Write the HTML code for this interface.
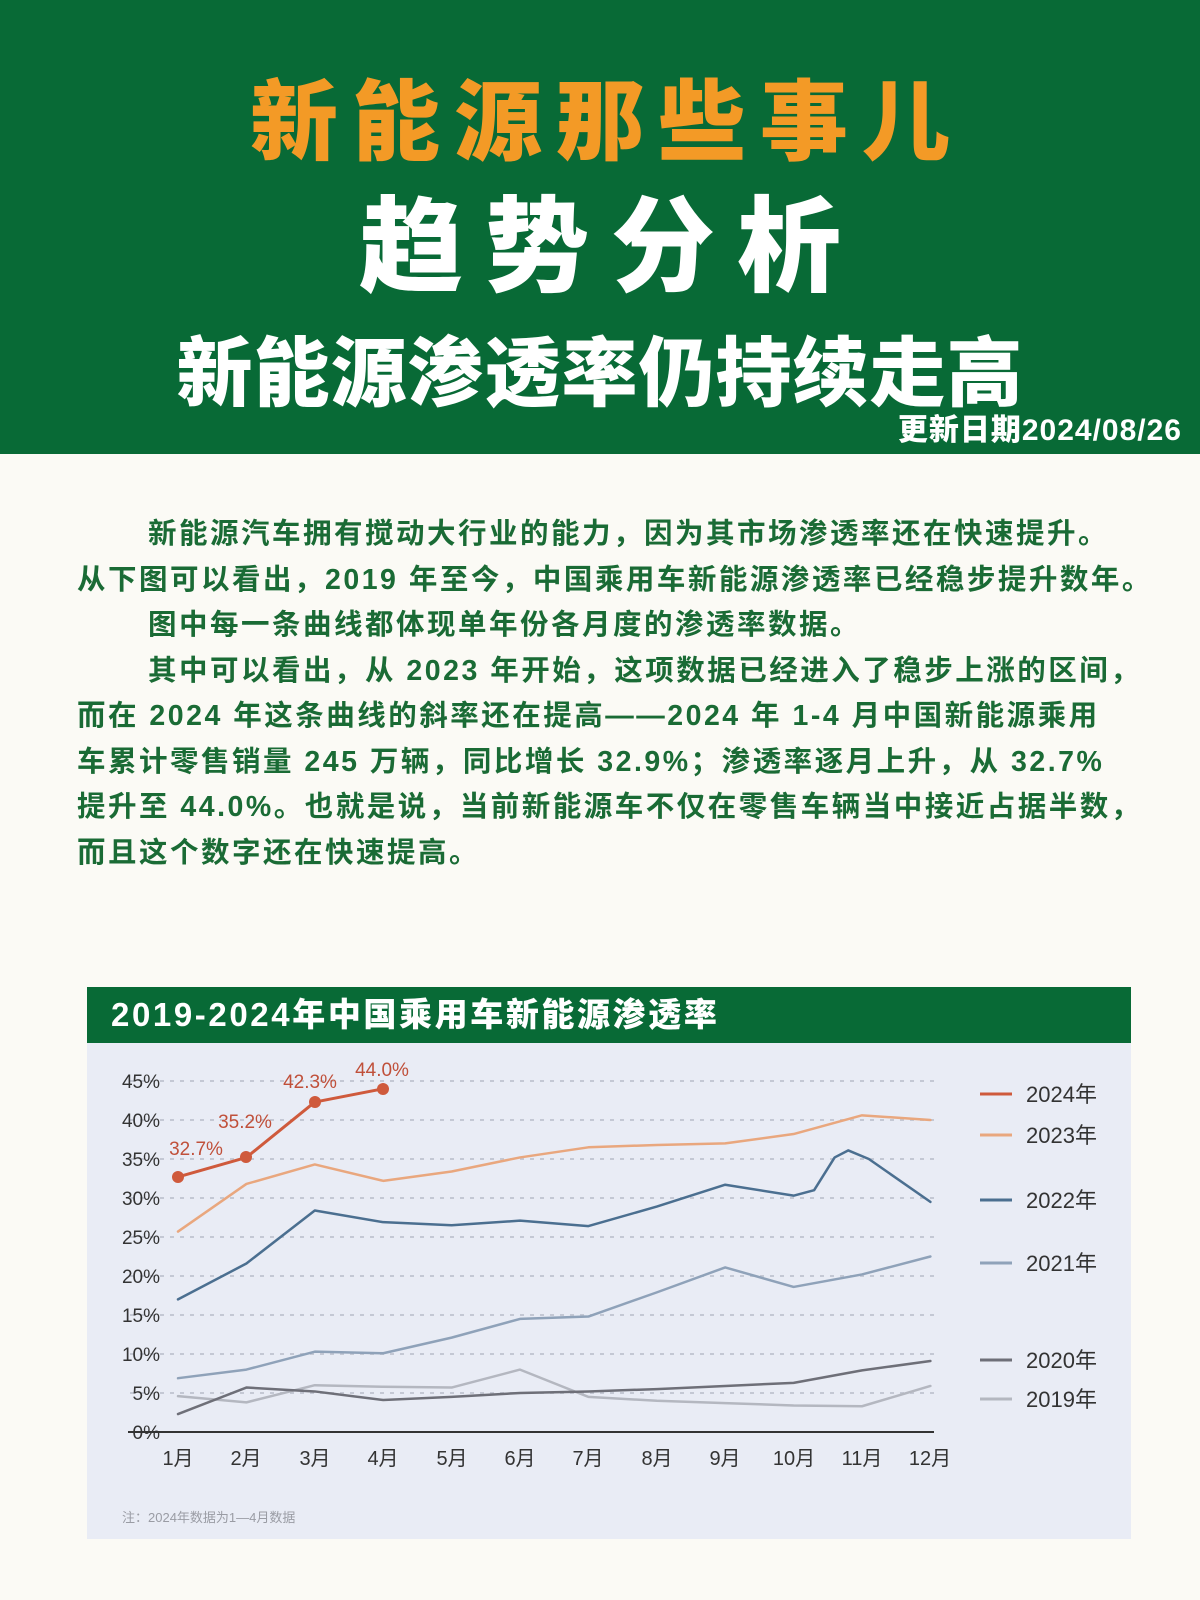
<!DOCTYPE html>
<html><head><meta charset="utf-8">
<style>
*{margin:0;padding:0;box-sizing:border-box}
body{width:1200px;height:1600px;background:#fbfaf5;position:relative;overflow:hidden;font-family:"Liberation Sans","Noto Sans CJK SC",sans-serif}
.hdr{position:absolute;left:0;top:0;width:1200px;height:454px;background:#086a36}
.t{position:absolute;left:0;width:1200px;text-align:center;font-weight:900;white-space:nowrap}
.body{position:absolute;left:77px;top:512px;color:#1a6b35;font-weight:bold;font-size:28.5px;line-height:45.5px;white-space:nowrap;letter-spacing:2.5px}
.ind{padding-left:71px}
</style></head><body>
<div class="hdr">
<div class="t" style="top:52px;font-size:88px;color:#f39a26;letter-spacing:14px;padding-left:14px">新能源那些事儿</div>
<div class="t" style="top:162px;font-size:104px;color:#fff;letter-spacing:22px;padding-left:22px">趋势分析</div>
<div class="t" style="top:312px;font-size:76px;color:#fff;letter-spacing:1px">新能源渗透率仍持续走高</div>
<div style="position:absolute;right:18px;top:405px;font-size:30px;font-weight:900;color:#fff;letter-spacing:1px">更新日期2024/08/26</div>
</div>
<div class="body">
<div class="ind">新能源汽车拥有搅动大行业的能力，因为其市场渗透率还在快速提升。</div>
<div>从下图可以看出，2019 年至今，中国乘用车新能源渗透率已经稳步提升数年。</div>
<div class="ind">图中每一条曲线都体现单年份各月度的渗透率数据。</div>
<div class="ind">其中可以看出，从 2023 年开始，这项数据已经进入了稳步上涨的区间，</div>
<div>而在 2024 年这条曲线的斜率还在提高——2024 年 1-4 月中国新能源乘用</div>
<div>车累计零售销量 245 万辆，同比增长 32.9%；渗透率逐月上升，从 32.7%</div>
<div>提升至 44.0%。也就是说，当前新能源车不仅在零售车辆当中接近占据半数，</div>
<div>而且这个数字还在快速提高。</div>
</div>
<div style="position:absolute;left:87px;top:987px;width:1044px;height:552px;background:#e9ecf5"></div>
<div style="position:absolute;left:87px;top:987px;width:1044px;height:56px;background:#086a36;color:#fff;font-weight:900;font-size:33px;line-height:56px;padding-left:24px;letter-spacing:2.6px">2019-2024年中国乘用车新能源渗透率</div>
<svg style="position:absolute;left:0;top:0" width="1200" height="1600" font-family="Liberation Sans, Noto Sans CJK SC, sans-serif">
<g stroke="#c4c8d4" stroke-width="2" stroke-dasharray="4,6">
<line x1="130" x2="934" y1="1081" y2="1081"/><line x1="130" x2="934" y1="1120" y2="1120"/><line x1="130" x2="934" y1="1159" y2="1159"/><line x1="130" x2="934" y1="1198" y2="1198"/><line x1="130" x2="934" y1="1237" y2="1237"/><line x1="130" x2="934" y1="1276" y2="1276"/><line x1="130" x2="934" y1="1315" y2="1315"/><line x1="130" x2="934" y1="1354" y2="1354"/><line x1="130" x2="934" y1="1393" y2="1393"/>
</g>
<line x1="128" x2="934" y1="1432" y2="1432" stroke="#333" stroke-width="2"/>
<g font-size="19" fill="#333" text-anchor="end">
<text x="160" y="1439">0%</text><text x="160" y="1400">5%</text><text x="160" y="1361">10%</text><text x="160" y="1322">15%</text><text x="160" y="1283">20%</text><text x="160" y="1244">25%</text><text x="160" y="1205">30%</text><text x="160" y="1166">35%</text><text x="160" y="1127">40%</text><text x="160" y="1088">45%</text>
</g>
<g font-size="20" fill="#333" text-anchor="middle">
<text x="178" y="1465">1月</text><text x="246" y="1465">2月</text><text x="315" y="1465">3月</text><text x="383" y="1465">4月</text><text x="452" y="1465">5月</text><text x="520" y="1465">6月</text><text x="588" y="1465">7月</text><text x="657" y="1465">8月</text><text x="725" y="1465">9月</text><text x="794" y="1465">10月</text><text x="862" y="1465">11月</text><text x="930" y="1465">12月</text>
</g>
<g transform="translate(178,1432) scale(68.4,-7.8)" fill="none" stroke-linejoin="round" stroke-linecap="round">
<polyline vector-effect="non-scaling-stroke" stroke="#b4b7c0" stroke-width="2.5" points="0,4.6 1,3.8 2,6.0 3,5.8 4,5.7 5,8.0 6,4.5 7,4.0 8,3.7 9,3.4 10,3.3 11,5.9"/>
<polyline vector-effect="non-scaling-stroke" stroke="#6e6f78" stroke-width="2.5" points="0,2.3 1,5.7 2,5.2 3,4.1 4,4.5 5,5.0 6,5.2 7,5.5 8,5.9 9,6.3 10,7.9 11,9.1"/>
<polyline vector-effect="non-scaling-stroke" stroke="#8fa2b9" stroke-width="2.5" points="0,6.9 1,8.0 2,10.3 3,10.1 4,12.1 5,14.5 6,14.8 7,17.9 8,21.1 9,18.6 10,20.2 11,22.5"/>
<polyline vector-effect="non-scaling-stroke" stroke="#4b6f90" stroke-width="2.5" points="0,17.0 1,21.6 2,28.4 3,26.9 4,26.5 5,27.1 6,26.4 7,28.9 8,31.7 9,30.3 9.3,31 9.6,35.2 9.8,36.1 10.1,35.0 11,29.5"/>
<polyline vector-effect="non-scaling-stroke" stroke="#e9a77e" stroke-width="2.5" points="0,25.7 1,31.8 2,34.3 3,32.2 4,33.4 5,35.2 6,36.5 7,36.8 8,37.0 9,38.2 10,40.6 11,40.0"/>
<polyline vector-effect="non-scaling-stroke" stroke="#cf5a3c" stroke-width="3" points="0,32.7 1,35.2 2,42.3 3,44.0"/>
</g>
<g fill="#cf5a3c"><circle cx="178" cy="1177" r="6"/><circle cx="246" cy="1157" r="6"/><circle cx="315" cy="1102" r="6"/><circle cx="383" cy="1089" r="6"/></g>
<g font-size="19" fill="#c0503a" text-anchor="middle">
<text x="196" y="1155">32.7%</text><text x="245" y="1128">35.2%</text><text x="310" y="1088">42.3%</text><text x="382" y="1076">44.0%</text>
</g>
<g stroke-width="3">
<line x1="980" x2="1012" y1="1094" y2="1094" stroke="#cf5a3c"/>
<line x1="980" x2="1012" y1="1135" y2="1135" stroke="#e9a77e"/>
<line x1="980" x2="1012" y1="1200" y2="1200" stroke="#4b6f90"/>
<line x1="980" x2="1012" y1="1263" y2="1263" stroke="#8fa2b9"/>
<line x1="980" x2="1012" y1="1360" y2="1360" stroke="#6e6f78"/>
<line x1="980" x2="1012" y1="1399" y2="1399" stroke="#b4b7c0"/>
</g>
<g font-size="22" fill="#333">
<text x="1026" y="1102">2024年</text><text x="1026" y="1143">2023年</text><text x="1026" y="1208">2022年</text><text x="1026" y="1271">2021年</text><text x="1026" y="1368">2020年</text><text x="1026" y="1407">2019年</text>
</g>
<text x="122" y="1522" font-size="13" fill="#9a9ca4">注：2024年数据为1—4月数据</text>
</svg>
</body></html>
